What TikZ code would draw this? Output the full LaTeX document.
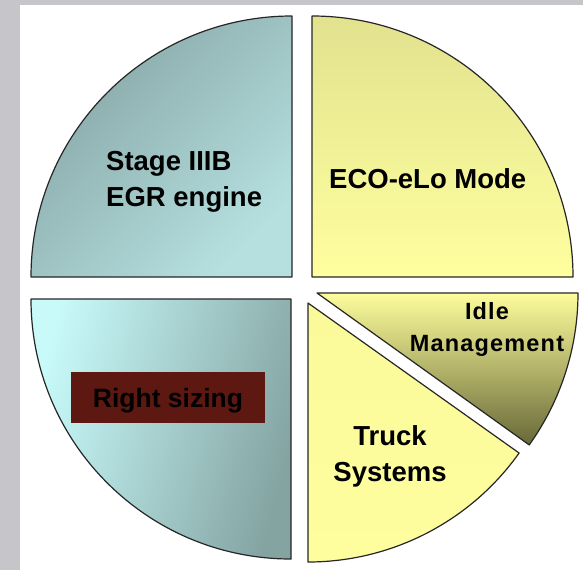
\documentclass[tikz,border=0pt]{standalone}
\usepackage{fontspec}
\setmainfont{Liberation Sans}
\newfontfamily\spacedfont[LetterSpace=5]{Liberation Sans}

\definecolor{pagegray}{HTML}{C6C6CA}
\definecolor{tlDark}{HTML}{86A5A5}
\definecolor{tlLight}{HTML}{B6E0E0}
\definecolor{blLight}{HTML}{C8FAFA}
\definecolor{blDark}{HTML}{84A4A2}
\definecolor{trTop}{HTML}{E2E28F}
\definecolor{trBottom}{HTML}{FFFF9F}
\definecolor{idleTop}{HTML}{FDFD9C}
\definecolor{idleBottom}{HTML}{686838}
\definecolor{truckTop}{HTML}{FAFA9A}
\definecolor{truckMid}{HTML}{E6E68D}
\definecolor{truckBottom}{HTML}{FEFE9E}
\definecolor{sizingRed}{HTML}{5E1812}

\begin{document}
\begin{tikzpicture}[x=1pt,y=-1pt]

		\tikzset{slice/.style = {draw=black!85, line width=1.2pt, line join=round}}
		\tikzset{sliceText/.style = {font=\bfseries\fontsize{27.5}{35.5}\selectfont, inner sep=0pt, text=black}}
		\tikzset{sizingBox/.style = {fill=sizingRed, minimum width=194pt, minimum height=51pt, inner sep=0pt, text depth=0pt, font=\bfseries\fontsize{26.5}{30}\selectfont}}
		% page
		\fill[pagegray] (0,0) rectangle (583,570);
		\fill[white] (20,5) rectangle (583,570);
		\useasboundingbox (0,0) rectangle (583,570);
		% slices
		\draw[slice, top color=tlDark, bottom color=tlLight, shading angle=45] (292,277) -- (31,277) arc[start angle=180, end angle=270, radius=261] -- cycle;
		\draw[slice, top color=trTop, bottom color=trBottom] (312,277) -- (312,16) arc[start angle=270, end angle=360, radius=261] -- cycle;
		\draw[slice, left color=blLight, right color=blDark, shading angle=75] (291,299) -- (31,299) arc[start angle=180, end angle=90, radius=260] -- cycle;
		\draw[slice, top color=idleTop, bottom color=idleBottom] (317,293) -- (578,293) arc[start angle=0, end angle=35.6, radius=261] -- cycle;
		\draw[slice, top color=truckTop, middle color=truckMid, bottom color=truckBottom] (308,303) -- ++(35.4:259) arc[start angle=35.4, end angle=90, radius=259] -- cycle;
		% labels
		\node[sliceText, align=left, anchor=north west] (stage) at (106,151.5) {Stage IIIB\\EGR engine};
		\node[sliceText, anchor=base west] (eco) at (329,188) {ECO-eLo Mode};
		\node[sliceText, font=\spacedfont\bfseries\fontsize{23.5}{31.5}\selectfont, align=center, anchor=north] (idle) at (487,302.5) {Idle\\Management};
		\node[sliceText, align=center, anchor=north] (truck) at (390,425.5) {Truck\\Systems};
		\node[sizingBox] (sizing) at (168,397.5) {Right sizing};
\end{tikzpicture}
\end{document}
